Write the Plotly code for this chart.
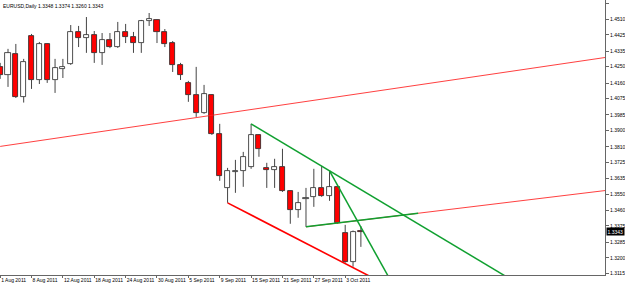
import plotly.graph_objects as go

# ---------------- data ----------------
symbol = "EURUSD,Daily"
dates = ["2 Aug", "3 Aug", "4 Aug", "5 Aug", "8 Aug", "9 Aug", "10 Aug", "11 Aug", "12 Aug",
         "15 Aug", "16 Aug", "17 Aug", "18 Aug", "19 Aug", "22 Aug", "23 Aug", "24 Aug", "25 Aug",
         "26 Aug", "29 Aug", "30 Aug", "31 Aug", "1 Sep", "2 Sep", "5 Sep", "6 Sep", "7 Sep",
         "8 Sep", "9 Sep", "12 Sep", "13 Sep", "14 Sep", "15 Sep", "16 Sep", "19 Sep", "20 Sep",
         "21 Sep", "22 Sep", "23 Sep", "26 Sep", "27 Sep", "28 Sep", "29 Sep", "30 Sep", "3 Oct",
         "4 Oct", "5 Oct"]
opens = [1.4249, 1.4205, 1.4320, 1.4086, 1.4419, 1.4177, 1.4375, 1.4177, 1.4238, 1.4265,
         1.4441, 1.4408, 1.4424, 1.4326, 1.4397, 1.4358, 1.4441, 1.4413, 1.4380, 1.4501,
         1.4507, 1.4441, 1.4380, 1.4260, 1.4161, 1.4095, 1.3996, 1.4095, 1.3881, 1.3584,
         1.3674, 1.3678, 1.3700, 1.3875, 1.3694, 1.3683, 1.3700, 1.3568, 1.3464, 1.3524,
         1.3535, 1.3584, 1.3540, 1.3590, 1.3337, 1.3178, 1.3348]
highs = [1.4271, 1.4348, 1.4375, 1.4293, 1.4430, 1.4386, 1.4380, 1.4293, 1.4293, 1.4479,
         1.4474, 1.4523, 1.4446, 1.4435, 1.4435, 1.4496, 1.4485, 1.4441, 1.4507, 1.4545,
         1.4512, 1.4457, 1.4391, 1.4271, 1.4172, 1.4249, 1.4150, 1.4100, 1.3936, 1.3694,
         1.3738, 1.3782, 1.3936, 1.3880, 1.3722, 1.3744, 1.3799, 1.3572, 1.3562, 1.3584,
         1.3689, 1.3705, 1.3678, 1.3595, 1.3381, 1.3350, 1.3374]
lows = [1.4183, 1.4139, 1.4078, 1.4053, 1.4128, 1.4155, 1.4161, 1.4106, 1.4188, 1.4260,
        1.4358, 1.4326, 1.4271, 1.4260, 1.4352, 1.4353, 1.4380, 1.4326, 1.4326, 1.4474,
        1.4380, 1.4358, 1.4221, 1.4177, 1.4057, 1.3974, 1.3991, 1.3875, 1.3623, 1.3502,
        1.3557, 1.3590, 1.3689, 1.3755, 1.3584, 1.3584, 1.3562, 1.3387, 1.3420, 1.3370,
        1.3480, 1.3535, 1.3513, 1.3387, 1.3173, 1.3151, 1.3260]
closes = [1.4205, 1.4326, 1.4084, 1.4278, 1.4177, 1.4375, 1.4177, 1.4243, 1.4249, 1.4441,
          1.4408, 1.4424, 1.4326, 1.4397, 1.4358, 1.4441, 1.4413, 1.4380, 1.4501, 1.4512,
          1.4441, 1.4375, 1.4260, 1.4205, 1.4095, 1.3996, 1.4100, 1.3881, 1.3650, 1.3679,
          1.3679, 1.3755, 1.3875, 1.3799, 1.3683, 1.3700, 1.3568, 1.3464, 1.3502, 1.3529,
          1.3584, 1.3540, 1.3590, 1.3392, 1.3178, 1.3343, 1.3343]

x_tick_idx = [0, 4, 8, 12, 16, 20, 24, 28, 32, 36, 40, 44]
x_tick_text = ["1 Aug 2011", "8 Aug 2011", "12 Aug 2011", "18 Aug 2011", "24 Aug 2011",
               "30 Aug 2011", "5 Sep 2011", "9 Sep 2011", "15 Sep 2011", "21 Sep 2011",
               "27 Sep 2011", "3 Oct 2011"]
y_ticks = [1.4600, 1.4510, 1.4425, 1.4335, 1.4250, 1.4160, 1.4075, 1.3985, 1.3900, 1.3810,
           1.3725, 1.3635, 1.3550, 1.3460, 1.3375, 1.3285, 1.3200, 1.3115]

# trendline anchors (bar index, price)
red_upper_pts = [(0, 1.3812), (78, 1.4306)]
red_mid_pts = [(39, 1.3370), (78, 1.3574)]
red_lower_pts = [(29, 1.3502), (45, 1.3146)]
green_upper_pts = [(32, 1.3936), (42, 1.3678)]
green_steep_pts = [(42, 1.3678), (47, 1.3291)]
green_lower_pts = [(39, 1.3370), (53.3, 1.3445)]

# ---------------- figure ----------------
FONT = "Liberation Sans, Arial, sans-serif"
idx = list(range(len(opens)))
fig = go.Figure()

# wicks (upper and lower segments so they don't cross the bodies)
wx, wy = [], []
for i in idx:
    top = max(opens[i], closes[i])
    bot = min(opens[i], closes[i])
    wx += [i, i, None, i, i, None]
    wy += [highs[i], top, None, bot, lows[i], None]
fig.add_trace(go.Scatter(x=wx, y=wy, mode="lines", line=dict(color="#444", width=1),
                         hoverinfo="skip"))

MIN_H = 0.00045
for is_bull, fill in [(True, "white"), (False, "#ff0000")]:
    sel = [i for i in idx if (closes[i] >= opens[i]) == is_bull]
    base = [min(opens[i], closes[i]) for i in sel]
    hgt = [max(abs(closes[i] - opens[i]), MIN_H) for i in sel]
    fig.add_trace(go.Bar(x=sel, y=hgt, base=base, width=0.64,
                         marker=dict(color=fill, line=dict(color="#222", width=0.8))))


def ray(pts, x_end):
    (x0, y0), (x1, y1) = pts
    s = (y1 - y0) / (x1 - x0)
    return [x0, x_end], [y0, y0 + s * (x_end - x0)]


for pts, xe, col, w in [
    (red_upper_pts, 80, "rgba(255,30,30,0.85)", 1),
    (red_mid_pts, 80, "rgba(255,30,30,0.85)", 1),
    (red_lower_pts, 49, "#ff0000", 1.6),
    (green_upper_pts, 68, "#10a030", 1.5),
    (green_steep_pts, 51, "#10a030", 1.5),
    (green_lower_pts, green_lower_pts[1][0], "#10a030", 1.5),
]:
    xs, ys = ray(pts, xe)
    fig.add_trace(go.Scatter(x=xs, y=ys, mode="lines", line=dict(color=col, width=w),
                             hoverinfo="skip"))

title = f"{symbol} {opens[-1]:.4f} {highs[-1]:.4f} {lows[-1]:.4f} {closes[-1]:.4f}"
fig.add_annotation(text=title, xref="paper", yref="paper", x=0, y=1, xanchor="left",
                   yanchor="top", xshift=1, yshift=-1, showarrow=False,
                   font=dict(family=FONT, size=5, color="black"))
fig.add_annotation(text=f"{closes[-1]:.4f}", xref="paper", yref="y", x=1, y=closes[-1],
                   xanchor="left", yanchor="middle", xshift=1, showarrow=False,
                   bgcolor="black", borderpad=0.5,
                   font=dict(family=FONT, size=5, color="white"))

fig.update_layout(
    width=625, height=284, margin=dict(l=0, r=20, t=0, b=9),
    paper_bgcolor="white", plot_bgcolor="white", showlegend=False,
    barmode="overlay", bargap=0,
    xaxis=dict(range=[-0.02, 77.13], showgrid=False, zeroline=False, showline=True,
               automargin=False, tickangle=0,
               linecolor="#666", linewidth=1, ticks="outside", ticklen=2, tickcolor="#666",
               tickvals=x_tick_idx, ticktext=x_tick_text, ticklabelposition="outside right",
               tickfont=dict(family=FONT, size=5, color="black")),
    yaxis=dict(range=[1.31055, 1.46165], side="right", showgrid=False, zeroline=False,
               automargin=False,
               showline=True, linecolor="#666", linewidth=1, ticks="outside", ticklen=3,
               tickcolor="#666", tickvals=y_ticks, ticktext=[f"{v:.4f}" for v in y_ticks],
               tickfont=dict(family=FONT, size=5, color="black")),
)

fig.write_html("out.html")
